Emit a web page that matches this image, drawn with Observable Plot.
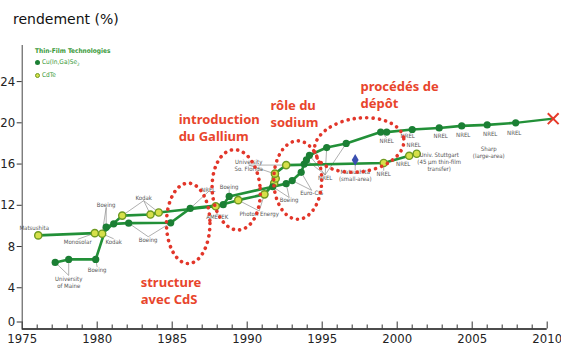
<!DOCTYPE html>
<html>
<head>
<meta charset="utf-8">
<script src="https://cdn.jsdelivr.net/npm/d3@7"></script>
<script src="https://cdn.jsdelivr.net/npm/@observablehq/plot@0.6"></script>
<style>
  html, body { margin: 0; padding: 0; background: #fff; }
  #wrap { position: relative; width: 561px; height: 347px; overflow: hidden; }
  #title { position: absolute; left: 13px; top: 11px; font-family: "DejaVu Sans", sans-serif; font-size: 14px; color: #111; }
  #legend { position: absolute; left: 35px; top: 46px; font-family: "Liberation Sans Narrow", "DejaVu Sans Condensed", sans-serif; font-size: 6.5px; color: #3a9a3a; line-height: 11px; }
  #legend .h { font-weight: bold; }
  #legend .m { display: inline-block; width: 5px; height: 5px; border-radius: 50%; margin-right: 2px; vertical-align: -0.5px; box-sizing: border-box; }
  svg { position: absolute; left: 0; top: 0; }
</style>
</head>
<body>
<div id="wrap">
  <div id="chart"></div>
  <div id="title">rendement (%)</div>
  <div id="legend">
    <div class="h">Thin-Film Technologies</div>
    <div><span class="m" style="background:#1b7f34"></span>Cu(In,Ga)Se<sub style="font-size:4.5px">2</sub></div>
    <div><span class="m" style="background:#d6e04a;border:1.3px solid #6f9a22"></span>CdTe</div>
  </div>
</div>
<script>
// CIGS (Cu(In,Ga)Se2) record efficiencies
const cigsYear  = [1977.2, 1978.1, 1979.9, 1980.6, 1981.1, 1982.1, 1984.9, 1986.2, 1988.4, 1988.8, 1991.7, 1992.6, 1993.0, 1993.6, 1993.8, 1993.95, 1994.15, 1995.3, 1996.6, 1998.9, 1999.3, 2001.0, 2002.8, 2004.3, 2006.0, 2007.9];
const cigsValue = [6.46, 6.75, 6.75, 9.88, 10.2, 10.27, 10.3, 11.7, 12.06, 12.86, 13.8, 14.1, 14.4, 15.2, 16.0, 16.4, 16.85, 17.6, 18.0, 19.1, 19.1, 19.35, 19.5, 19.7, 19.8, 20.0];
// trend end (red cross)
const trendYear  = [2007.9, 2010.4];
const trendValue = [20.0, 20.4];
// CdTe record efficiencies
const cdteYear  = [1976.07, 1979.84, 1980.33, 1981.67, 1983.55, 1984.1, 1987.9, 1989.4, 1991.15, 1991.8, 1991.9, 1991.85, 1992.6, 1999.1, 2000.8, 2001.3];
const cdteValue = [9.08, 9.3, 9.24, 11.0, 11.1, 11.3, 11.9, 12.5, 13.06, 14.15, 14.6, 15.07, 15.9, 16.1, 16.8, 17.0];
// single other cell (blue diamond)
const otherYear = [1997.2];
const otherValue = [16.4];

const yTicks = [4, 8, 12, 16, 20, 24];
const yZero = [0];
const xMajor = [1975, 1980, 1985, 1990, 1995, 2000, 2005, 2010];
const xMinor = d3.range(1976, 2010).filter(y => y % 5 !== 0);

// gray organisation labels
const labelText = ["Matsushita", "Monosolar", "Kodak", "Boeing", "Kodak", "Boeing", "Boeing", "University\nof Maine",
  "NREL", "Boeing", "AMETEK", "Photon Energy", "Boeing", "Euro-CIS", "University\nSo. Florida", "NREL",
  "Matsushita\n(small-area)", "NREL", "NREL", "NREL", "NREL", "NREL", "NREL", "NREL", "NREL", "NREL",
  "Univ. Stuttgart\n(45 µm thin-film\ntransfer)", "Sharp\n(large-area)"];
const labelYear = [1975.8, 1978.7, 1981.1, 1980.6, 1983.1, 1983.4, 1980.0, 1978.1,
  1987.4, 1988.8, 1988.0, 1990.8, 1992.8, 1994.3, 1990.1, 1995.2,
  1997.2, 1999.1, 1999.3, 2000.4, 2000.7, 2001.1, 2002.9, 2004.4, 2006.2, 2007.8,
  2002.8, 2006.1];
const labelValue = [9.78, 8.43, 8.5, 12.06, 12.7, 8.69, 5.78, 4.55,
  13.5, 13.8, 10.85, 11.2, 12.5, 13.2, 15.9, 14.7,
  14.9, 15.1, 18.3, 16.0, 18.7, 17.9, 18.7, 18.8, 18.9, 19.0,
  16.2, 17.1];

// leader lines: label -> point
const leaderFrom = [[1978.1,5.2],[1978.1,5.2],[1980.0,6.0],[1978.7,8.7],[1981.1,8.75],[1980.6,11.8],[1980.6,11.8],
  [1983.1,12.45],[1983.1,12.45],[1983.1,12.45],[1983.4,8.95],[1983.4,8.95],
  [1987.4,13.3],[1988.8,13.55],[1988.0,11.1],[1990.8,11.45],[1990.8,11.45],[1990.1,15.9],[1990.1,15.9],
  [1992.8,12.75],[1992.8,12.75],[1994.3,13.45],[1994.3,13.45],
  [1995.2,14.95],[1995.2,14.95],[1995.2,14.95],[1995.2,14.95],[1997.2,15.4],[1999.1,15.35],[1999.3,18.55]];
const leaderTo = [[1977.2,6.46],[1978.1,6.75],[1979.9,6.75],[1979.84,9.3],[1980.33,9.24],[1980.33,9.24],[1980.6,9.88],
  [1981.67,11.0],[1983.55,11.1],[1984.1,11.3],[1982.1,10.27],[1984.9,10.3],
  [1986.2,11.7],[1988.8,12.86],[1987.9,11.9],[1991.15,13.06],[1989.4,12.5],[1991.8,15.07],[1992.6,15.9],
  [1992.6,14.1],[1991.7,13.8],[1993.6,15.2],[1993.0,14.4],
  [1994.15,16.85],[1995.3,17.6],[1996.6,18.0],[1993.95,16.4],[1997.2,16.4],[1999.1,16.1],[1998.9,19.1]];

// red annotations
const noteText  = ["introduction\ndu Gallium", "rôle du\nsodium", "procédés de\ndépôt", "structure\navec CdS"];
const noteYear  = [1985.43, 1991.55, 1997.55, 1982.9];
const noteValue = [19.62, 20.95, 22.8, 3.81];

// dotted ellipses: centre (year, value), half-widths (years, %), rotation
const ellYear  = [1986.1, 1989.3, 1993.4, 1997.5];
const ellValue = [10.2, 13.45, 14.4, 17.8];
const ellRx    = [1.45, 1.6, 1.6, 3.0];
const ellRy    = [3.9, 3.9, 3.8, 2.6];
const ellRot   = [0, -4, 0, -8];

const cigs = cigsYear.map((x, i) => ({x, y: cigsValue[i]}));
const trend = trendYear.map((x, i) => ({x, y: trendValue[i]}));
const cdte = cdteYear.map((x, i) => ({x, y: cdteValue[i]}));
const other = otherYear.map((x, i) => ({x, y: otherValue[i]}));
const labels = labelText.map((t, i) => ({t, x: labelYear[i], y: labelValue[i]}));
const leaders = leaderFrom.map((f, i) => ({x1: f[0], y1: f[1], x2: leaderTo[i][0], y2: leaderTo[i][1]}));
const notes = noteText.map((t, i) => ({t, x: noteYear[i], y: noteValue[i]}));

const green = "#229038";
const tickFont = "Liberation Sans Narrow, DejaVu Sans Condensed, sans-serif";

const chart = Plot.plot({
  width: 561,
  height: 347,
  marginLeft: 21.7,
  marginRight: 14.3,
  marginTop: 45,
  marginBottom: 18.5,
  style: {background: "transparent", overflow: "visible"},
  x: {domain: [1975, 2010]},
  y: {domain: [0, 27.5]},
  marks: [
    Plot.link(leaders, {x1: "x1", y1: "y1", x2: "x2", y2: "y2", stroke: "#7a7a7a", strokeWidth: 0.6}),
    Plot.line(cdte, {x: "x", y: "y", stroke: green, strokeWidth: 2.6}),
    Plot.line(cigs, {x: "x", y: "y", stroke: green, strokeWidth: 2.6}),
    Plot.line(trend, {x: "x", y: "y", stroke: green, strokeWidth: 2.2}),
    Plot.dot(cdte, {x: "x", y: "y", r: 3.6, fill: "#d6e04a", stroke: "#6f9a22", strokeWidth: 1.4}),
    Plot.dot(cigs, {x: "x", y: "y", r: 3.6, fill: "#1b7f34"}),
    Plot.dot(other, {x: "x", y: "y", r: 3.6, symbol: "diamond", fill: "#3a4fb0"}),
    Plot.dot(trend.slice(1), {x: "x", y: "y", r: 5, symbol: "times", stroke: "#e63a2a", strokeWidth: 2}),
    Plot.text(labels, {x: "x", y: "y", text: "t", fontSize: 6, fill: "#555", fontFamily: tickFont, lineHeight: 1.15}),
    Plot.text(notes, {x: "x", y: "y", text: "t", textAnchor: "start", fontSize: 13, fontWeight: "bold", fill: "#e8452c", fontFamily: "Noto Sans, DejaVu Sans, sans-serif", lineHeight: 1.3}),
    Plot.ruleX([1975], {y1: 0, y2: 27.5, stroke: "#444", strokeWidth: 1}),
    Plot.ruleY([0], {x1: 1975, x2: 2010, stroke: "#111", strokeWidth: 1.6}),
    Plot.axisY({ticks: yTicks, tickSize: 5, tickPadding: 2, fontSize: 13, fontFamily: tickFont, label: null, stroke: "#333", color: "#222"}),
    Plot.axisY({ticks: yZero, tickSize: 5, tickPadding: 2, dy: -7, fontSize: 13, fontFamily: tickFont, label: null, stroke: "#333", color: "#222"}),
    Plot.axisX({ticks: xMinor, tickSize: -4, text: null, label: null, stroke: "#333"}),
    Plot.axisX({ticks: xMajor, tickSize: -7, text: null, label: null, stroke: "#333"}),
    Plot.axisX({ticks: xMajor, tickSize: 0, tickPadding: 5, tickFormat: d => String(d), fontSize: 13, fontFamily: tickFont, label: null, color: "#222"})
  ]
});

document.getElementById("chart").appendChild(chart);

// red dotted ellipses drawn through the chart's own scales
const sx = chart.scale("x"), sy = chart.scale("y");
const svg = d3.select(chart);
const g = svg.append("g").attr("fill", "none").attr("stroke", "#e2362a").attr("stroke-width", 3.6)
  .attr("stroke-linecap", "round").attr("stroke-dasharray", "0.1 6.2");
ellYear.forEach((yr, i) => {
  const cx = sx.apply(yr), cy = sy.apply(ellValue[i]);
  const rx = Math.abs(sx.apply(yr + ellRx[i]) - cx);
  const ry = Math.abs(sy.apply(ellValue[i] + ellRy[i]) - cy);
  g.append("ellipse").attr("cx", cx).attr("cy", cy).attr("rx", rx).attr("ry", ry)
    .attr("transform", `rotate(${ellRot[i]} ${cx} ${cy})`);
});
</script>
</body>
</html>
